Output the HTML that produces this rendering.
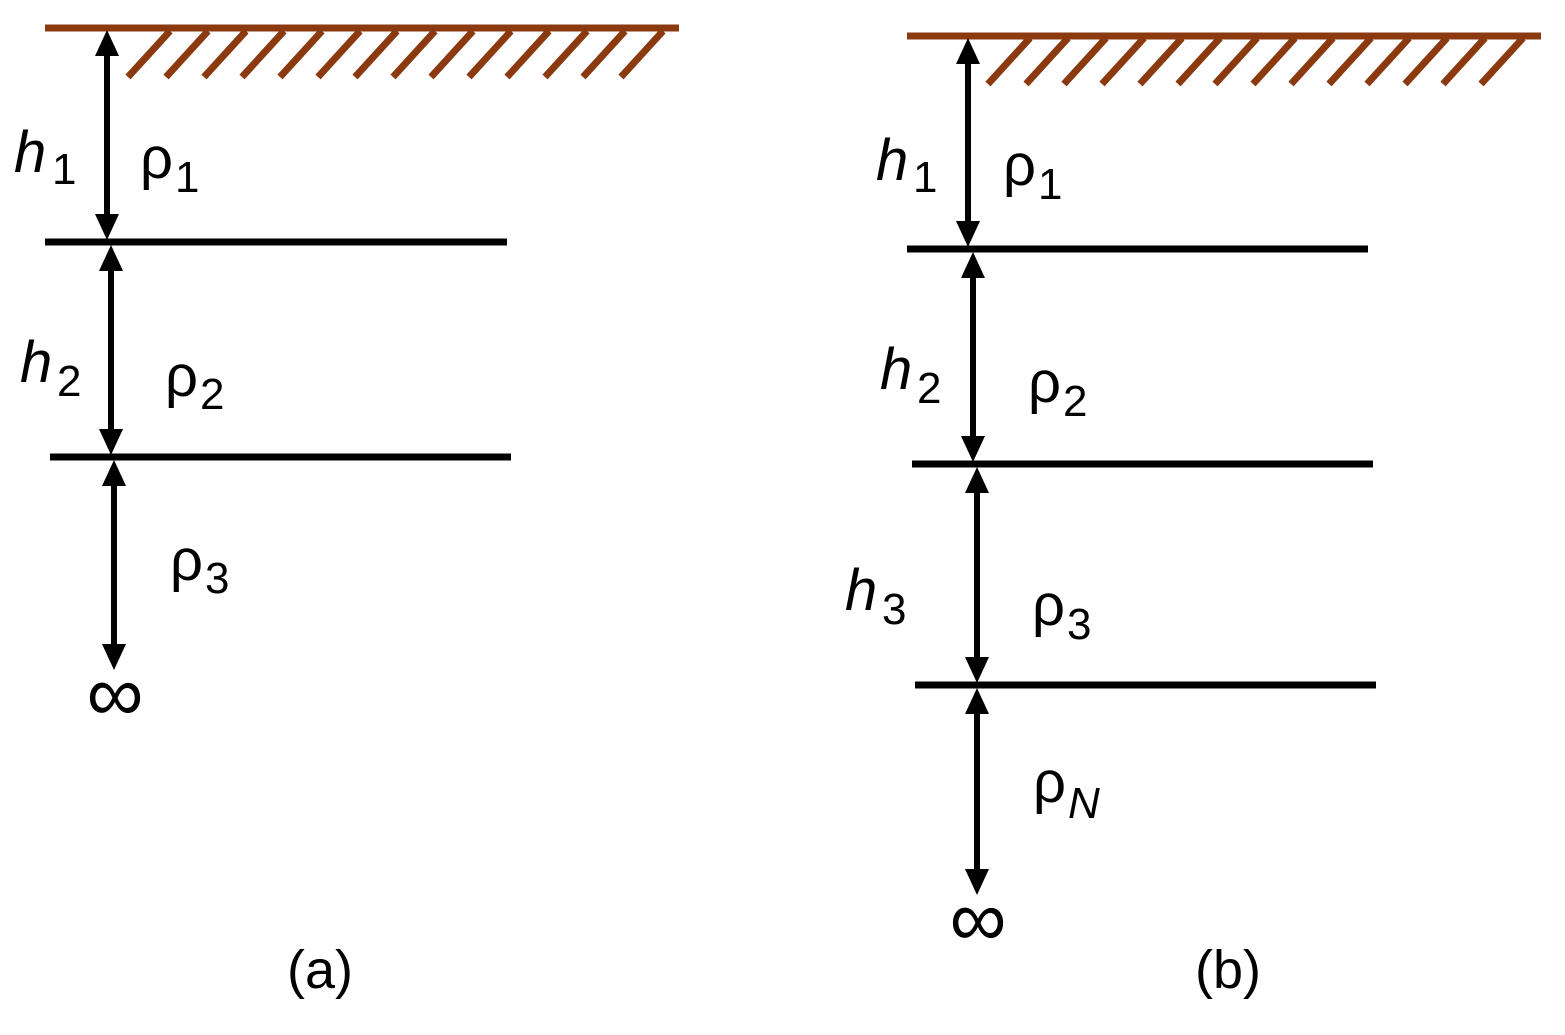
<!DOCTYPE html>
<html><head><meta charset="utf-8"><style>
html,body{margin:0;padding:0;background:#fff;}
svg{display:block;}
text{font-family:"Liberation Sans","DejaVu Sans",sans-serif;fill:#000;}
.it{font-style:italic;}
</style></head><body>
<svg width="1565" height="1035" viewBox="0 0 1565 1035" xmlns="http://www.w3.org/2000/svg">
<g stroke="#8B3A10" stroke-width="7" stroke-linecap="butt">
<line x1="45" y1="28" x2="679" y2="28"/>
<path d="M128 77 L170 31 M166 77 L208 31 M204 77 L246 31 M242 77 L284 31 M280 77 L322 31 M318 77 L360 31 M355 77 L397 31 M393 77 L435 31 M431 77 L473 31 M469 77 L511 31 M507 77 L549 31 M545 77 L587 31 M583 77 L625 31 M621 77 L663 31"/>
<line x1="907" y1="36" x2="1541" y2="36"/>
<path d="M988 84 L1030 38 M1026 84 L1068 38 M1064 84 L1106 38 M1102 84 L1144 38 M1140 84 L1182 38 M1178 84 L1220 38 M1215 84 L1257 38 M1253 84 L1295 38 M1291 84 L1333 38 M1329 84 L1371 38 M1367 84 L1409 38 M1405 84 L1447 38 M1443 84 L1485 38 M1481 84 L1523 38"/>
</g>
<g stroke="#000" stroke-width="7">
<line x1="45" y1="242" x2="507" y2="242"/>
<line x1="50" y1="457" x2="511" y2="457"/>
<line x1="907" y1="249" x2="1368" y2="249"/>
<line x1="912" y1="464" x2="1373" y2="464"/>
<line x1="915" y1="685" x2="1376" y2="685"/>
</g>
<g stroke="#000" stroke-width="6">
<line x1="107" y1="50" x2="107" y2="220"/>
<line x1="111" y1="265" x2="111" y2="435"/>
<line x1="114" y1="480" x2="114" y2="648"/>
<line x1="968" y1="58" x2="968" y2="226"/>
<line x1="973" y1="272" x2="973" y2="441"/>
<line x1="977" y1="487" x2="977" y2="662"/>
<line x1="977" y1="708" x2="977" y2="872"/>
</g>
<g fill="#000">
<polygon points="107,30 95,56 119,56"/><polygon points="107,240 95,214 119,214"/>
<polygon points="111,245 99,271 123,271"/><polygon points="111,455 99,429 123,429"/>
<polygon points="114,460 102,486 126,486"/><polygon points="114,670 102,644 126,644"/>
<polygon points="968,38 956,64 980,64"/><polygon points="968,247 956,221 980,221"/>
<polygon points="973,252 961,278 985,278"/><polygon points="973,462 961,436 985,436"/>
<polygon points="977,467 965,493 989,493"/><polygon points="977,683 965,657 989,657"/>
<polygon points="977,688 965,714 989,714"/><polygon points="977,895 965,869 989,869"/>
</g>
<g font-size="58">
<text x="14" y="172" class="it">h</text><text x="52" y="184" font-size="44">1</text>
<text x="140" y="178">ρ</text><text x="175" y="192" font-size="44">1</text>
<text x="20" y="382" class="it">h</text><text x="57" y="396" font-size="44">2</text>
<text x="165" y="396">ρ</text><text x="200" y="409" font-size="44">2</text>
<text x="170" y="580">ρ</text><text x="205" y="593" font-size="44">3</text>
<text x="115" y="721" font-size="80" text-anchor="middle">∞</text>
<text x="287" y="988" font-size="54">(a)</text>

<text x="876" y="180" class="it">h</text><text x="913" y="192" font-size="44">1</text>
<text x="1003" y="185">ρ</text><text x="1038" y="199" font-size="44">1</text>
<text x="880" y="389" class="it">h</text><text x="917" y="403" font-size="44">2</text>
<text x="1028" y="402">ρ</text><text x="1063" y="416" font-size="44">2</text>
<text x="845" y="610" class="it">h</text><text x="882" y="624" font-size="44">3</text>
<text x="1032" y="625">ρ</text><text x="1067" y="639" font-size="44">3</text>
<text x="1033" y="802">ρ</text><text x="1068" y="818" font-size="44" class="it">N</text>
<text x="978" y="946" font-size="80" text-anchor="middle">∞</text>
<text x="1195" y="988" font-size="54">(b)</text>
</g>
</svg>
</body></html>
